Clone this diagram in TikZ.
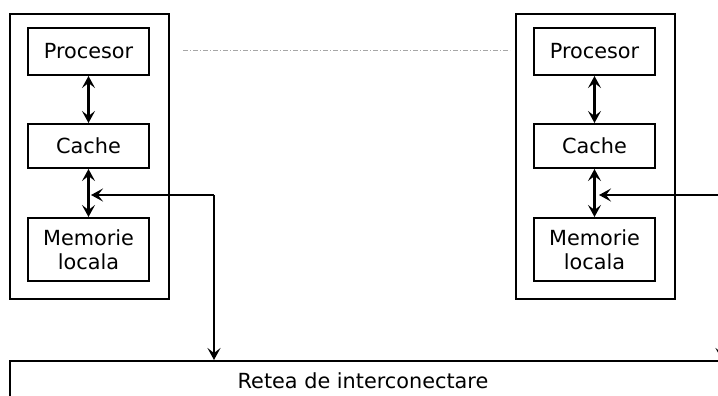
\documentclass[tikz,border=0pt]{standalone}
\usepackage{fontspec}
\setmainfont{DejaVu Sans}
\usetikzlibrary{arrows.meta}
\begin{document}
\begin{tikzpicture}[x=1pt,y=-1pt,
  every node/.style={font=\fontsize{20.8}{25}\selectfont},
  outerbox/.style={draw, line width=2.2pt, minimum width=159pt, minimum height=285pt, anchor=north west, inner sep=0pt},
  unit/.style={draw, line width=2pt, minimum width=121pt, anchor=north west, inner sep=0pt, align=center},
  tip/.style={Stealth[length=12pt,width=13pt,inset=5pt]},
  link/.style={line width=2.2pt, {Stealth[length=12pt,width=13pt,inset=5pt]}-{Stealth[length=12pt,width=13pt,inset=5pt]}},
  tolink/.style={line width=2.2pt, -{Stealth[length=12pt,width=13pt,inset=5pt]}},
  dotline/.style={draw=black!35, line width=1pt, dash pattern=on 5pt off 2pt on 1pt off 2pt}
]
\useasboundingbox (0,0) rectangle (718,396);
% left processor unit
\node[outerbox] (L) at (9,13) {};
\node[unit, minimum height=47pt] (LP) at (27,27) {Procesor};
\node[unit, minimum height=44pt] (LC) at (27,123) {Cache};
\node[unit, minimum height=63pt] (LM) at (27,217) {Memorie\\[-1pt]locala};
% right processor unit
\node[outerbox] (R) at (515,13) {};
\node[unit, minimum height=47pt] (RP) at (533,27) {Procesor};
\node[unit, minimum height=44pt] (RC) at (533,123) {Cache};
\node[unit, minimum height=63pt] (RM) at (533,217) {Memorie\\[-1pt]locala};
% interconnection network
\node[draw, line width=2.2pt, minimum width=760pt, minimum height=80pt, anchor=north west, inner sep=0pt] (bus) at (9,360) {};
\node (buslabel) at (363,381) {Retea de interconectare};
% internal links
\draw[link] (LP.south) -- (LC.north);
\draw[link] (LC.south) -- (LM.north);
\draw[link] (RP.south) -- (RC.north);
\draw[link] (RC.south) -- (RM.north);
% junctions
\coordinate (jL) at (91,195);
\coordinate (jR) at (599,195);
\coordinate (bL) at (214,360);
\coordinate (bR) at (722,360);
\draw[tolink] (bL |- jL) -- (jL);
\draw[tolink] (bL |- jL) -- (bL);
\draw[tolink] (bR |- jR) -- (jR);
\draw[tolink] (bR |- jR) -- (bR);
% dotted link between units
\coordinate (d1) at (183,51);
\coordinate (d2) at (510,51);
\draw[dotline] (d1) -- (d2);
\end{tikzpicture}
\end{document}
